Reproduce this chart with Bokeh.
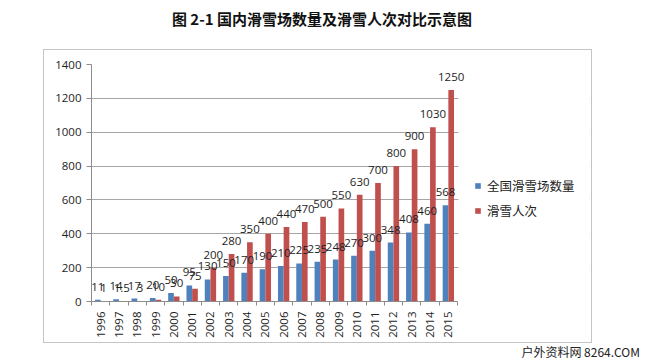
import math
from bokeh.plotting import figure
from bokeh.layouts import column
from bokeh.models import (ColumnDataSource, Range1d, Legend, LegendItem, Div,
                          BoxAnnotation, FixedTicker, SingleIntervalTicker)
from bokeh.transform import dodge
from bokeh.core.properties import value
from bokeh.embed import file_html
from bokeh.resources import INLINE

years = ["1996", "1997", "1998", "1999", "2000", "2001", "2002", "2003", "2004", "2005",
         "2006", "2007", "2008", "2009", "2010", "2011", "2012", "2013", "2014", "2015"]
resorts = [11, 14, 17, 20, 50, 95, 130, 150, 170, 190, 210, 225, 235, 248, 270, 300, 348, 408, 460, 568]
visits = [1, 1.5, 3, 10, 30, 75, 200, 280, 350, 400, 440, 470, 500, 550, 630, 700, 800, 900, 1030, 1250]
series_names = ["全国滑雪场数量", "滑雪人次"]
title_text = "图 2-1 国内滑雪场数量及滑雪人次对比示意图"
watermark_text = "户外资料网 8264.COM"

def fmt(v):
    return str(int(v)) if float(v).is_integer() else str(v)

idx = list(range(len(years)))
src = ColumnDataSource(dict(
    idx=idx, year=years, resorts=resorts, visits=visits,
    rl=[fmt(v) for v in resorts], vl=[fmt(v) for v in visits],
))

# chart box geometry (canvas inside bordered box)
CW, CH = 549, 294
ML, MR, MT, MB = 47, 4, 14, 43
CAT_PX = 18.3
frame_w = CW - ML - MR
n = len(years)
x_end = -0.5 + frame_w / CAT_PX

p = figure(width=CW, height=CH, x_range=Range1d(-0.5, x_end), y_range=Range1d(0, 1400),
           output_backend="svg", toolbar_location=None,
           min_border_left=ML, min_border_right=MR, min_border_top=MT, min_border_bottom=MB,
           margin=(0, 0, 0, 43), styles={"border": "1px solid #c4c4c4"})
p.outline_line_color = None
p.background_fill_color = "white"
p.border_fill_color = "white"

blue = "#4F81BD"
red = "#C0504D"
DX = 0.155
b1 = p.vbar(x=dodge("idx", -DX), top="resorts", width=0.31,
            source=src, fill_color=blue, line_color=None)
b2 = p.vbar(x=dodge("idx", DX), top="visits", width=0.31,
            source=src, fill_color=red, line_color=None)

# white cover hiding gridlines right of the category area (legend area)
cover = BoxAnnotation(left=n - 0.5 + 0.05, fill_color="white", fill_alpha=1.0,
                      line_color=None)
p.add_layout(cover)

lab_font = value("Open Sans")
t1 = p.text(x=dodge("idx", -DX), y="resorts", text="rl", source=src,
            text_align="center", text_baseline="bottom", text_font_size="11.5px",
            text_font=lab_font, text_color="#1e1e1e", y_offset=-9)
t2 = p.text(x=dodge("idx", DX), y="visits", text="vl", source=src,
            text_align="center", text_baseline="bottom", text_font_size="11.5px",
            text_font=lab_font, text_color="#1e1e1e", y_offset=-9)
t1.level = "overlay"
t2.level = "overlay"

# axes
p.yaxis.ticker = SingleIntervalTicker(interval=200)
p.yaxis.major_label_text_font_size = "11.5px"
p.yaxis.major_label_text_font = "Open Sans"
p.yaxis.major_label_text_color = "#1e1e1e"
p.yaxis.axis_line_color = "#8c8c8c"
p.yaxis.major_tick_line_color = "#8c8c8c"
p.yaxis.major_tick_out = 5
p.yaxis.major_tick_in = 0
p.yaxis.minor_tick_line_color = None
p.yaxis.major_label_standoff = 5

p.xaxis.ticker = FixedTicker(ticks=idx, minor_ticks=[i - 0.5 for i in idx] + [n - 0.5])
p.xaxis.major_label_overrides = {i: y for i, y in zip(idx, years)}
p.xaxis.bounds = (-0.5, n - 0.5)
p.xaxis.major_label_orientation = math.pi / 2
p.xaxis.major_label_text_font_size = "11.5px"
p.xaxis.major_label_text_font = "Open Sans"
p.xaxis.major_label_text_color = "#1e1e1e"
p.xaxis.axis_line_color = "#8c8c8c"
p.xaxis.major_tick_line_color = None
p.xaxis.minor_tick_line_color = "#8c8c8c"
p.xaxis.minor_tick_out = 4
p.xaxis.minor_tick_in = 0
p.xaxis.major_label_standoff = 4

p.xgrid.grid_line_color = None
p.ygrid.grid_line_color = "#a6a6a6"
p.ygrid.grid_line_width = 1

legend = Legend(items=[LegendItem(label=series_names[0], renderers=[b1]),
                       LegendItem(label=series_names[1], renderers=[b2])],
                location=(383, 81), border_line_color=None, background_fill_alpha=0,
                label_text_font="Noto Sans CJK SC", label_text_font_size="12.5px",
                label_text_color="#222222", glyph_width=7, glyph_height=7,
                label_height=20, spacing=5, margin=0, padding=0, label_standoff=6)
p.add_layout(legend)

title_div = Div(text=title_text, width=644, height=40, margin=(9, 0, 0, 0),
                styles={"text-align": "center", "font-size": "15px", "font-weight": "bold",
                        "font-family": "'Noto Sans CJK SC'", "color": "#111111",
                        "line-height": "20px", "box-sizing": "border-box",
                        "width": "644px"})
wm_div = Div(text=watermark_text, width=642, height=10, margin=(3, 0, 0, 0),
             styles={"text-align": "right", "font-size": "12px",
                     "font-family": "'Noto Sans CJK SC'", "color": "#222222",
                     "line-height": "12px", "padding-right": "2px", "box-sizing": "border-box",
                     "width": "642px", "overflow": "visible"})

layout = column(title_div, p, wm_div, spacing=0)

open("out.html", "w").write(file_html(layout, INLINE))
